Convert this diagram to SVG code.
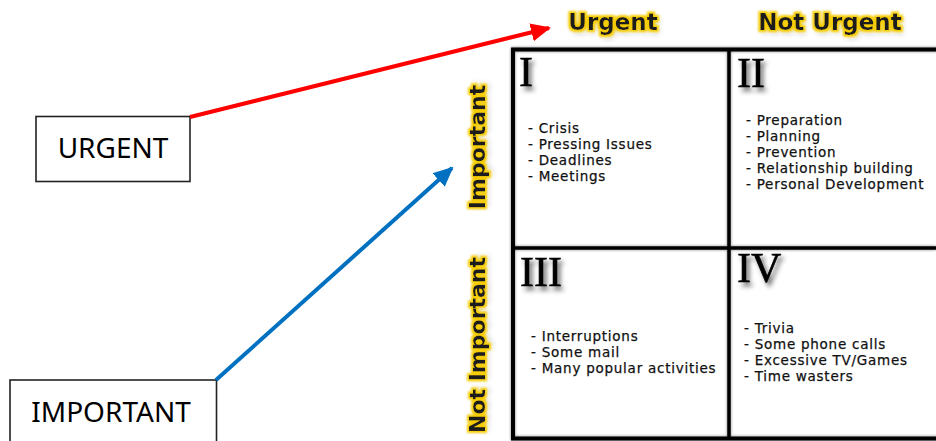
<svg xmlns="http://www.w3.org/2000/svg" width="936" height="441" viewBox="0 0 936 441">
<defs>
<style>
.box{fill:#fff;stroke:#222;stroke-width:1.6}
.boxt{font-family:"Noto Sans",sans-serif;font-size:28px;fill:#000;text-anchor:middle}
.hdr{font-family:"DejaVu Sans",Verdana,sans-serif;font-weight:bold;font-size:23px;fill:#1a1a1a;text-anchor:middle}
.vhdr{font-family:"DejaVu Sans",Verdana,sans-serif;font-weight:bold;font-size:22px;fill:#1a1a1a;text-anchor:middle}
.num{font-family:"Liberation Serif",serif;font-size:42px;fill:#000;stroke:#000;stroke-width:0.6}
.item{font-family:"DejaVu Sans",Verdana,sans-serif;font-size:13.5px;fill:#111;stroke:#111;stroke-width:0.25;letter-spacing:0.75px}
.grid{stroke:#000;fill:none}
</style>
<filter id="glow" x="-20%" y="-40%" width="140%" height="180%">
<feMorphology in="SourceAlpha" operator="dilate" radius="2" result="d"/>
<feFlood flood-color="#f5cc00"/>
<feComposite in2="d" operator="in" result="y"/>
<feGaussianBlur in="y" stdDeviation="1" result="yb"/>
<feGaussianBlur in="SourceAlpha" stdDeviation="3" result="sb"/>
<feOffset in="sb" dx="2" dy="3" result="so"/>
<feComponentTransfer in="so" result="sh"><feFuncA type="linear" slope="0.35"/></feComponentTransfer>
<feMerge><feMergeNode in="sh"/><feMergeNode in="yb"/><feMergeNode in="SourceGraphic"/></feMerge>
</filter>
<filter id="shadow" x="-30%" y="-30%" width="160%" height="160%">
<feGaussianBlur in="SourceAlpha" stdDeviation="2.5" result="b"/>
<feOffset in="b" dx="3" dy="4" result="o"/>
<feComponentTransfer in="o" result="s"><feFuncA type="linear" slope="0.6"/></feComponentTransfer>
<feMerge><feMergeNode in="s"/><feMergeNode in="SourceGraphic"/></feMerge>
</filter>
<filter id="lineshadow" x="-5%" y="-50%" width="110%" height="200%">
<feGaussianBlur in="SourceAlpha" stdDeviation="1.5"/>
<feComponentTransfer><feFuncA type="linear" slope="0.5"/></feComponentTransfer>
<feMerge><feMergeNode/><feMergeNode in="SourceGraphic"/></feMerge>
</filter>
<marker id="arrRed" markerWidth="5" markerHeight="5" refX="4.5" refY="2.5" orient="auto" markerUnits="strokeWidth"><path d="M0,0.2 L5,2.5 L0,4.8 z" fill="#ff0000"/></marker>
<marker id="arrBlue" markerWidth="5" markerHeight="5" refX="4.5" refY="2.5" orient="auto" markerUnits="strokeWidth"><path d="M0,0.2 L5,2.5 L0,4.8 z" fill="#0070c0"/></marker>
</defs>
<rect width="936" height="441" fill="#fff"/>

<g id="matrix">
<g filter="url(#lineshadow)">
<rect class="grid" x="513" y="49.5" width="430" height="389" stroke-width="4"/>
<line class="grid" x1="729" y1="50" x2="729" y2="438" stroke-width="3.5"/>
<line class="grid" x1="513" y1="248" x2="936" y2="248" stroke-width="3.5"/>
</g>
</g>

<g id="headers">
<text class="hdr" x="613" y="30" filter="url(#glow)">Urgent</text>
<text class="hdr" x="830" y="30" filter="url(#glow)">Not Urgent</text>
<text class="vhdr" transform="translate(485,147) rotate(-90)" filter="url(#glow)">Important</text>
<text class="vhdr" transform="translate(485,345) rotate(-90)" filter="url(#glow)">Not Important</text>
</g>

<g id="q1">
<text class="num" x="519" y="86" filter="url(#shadow)">I</text>
<text class="item" x="528" y="133">- Crisis</text>
<text class="item" x="528" y="149">- Pressing Issues</text>
<text class="item" x="528" y="165">- Deadlines</text>
<text class="item" x="528" y="181">- Meetings</text>
</g>

<g id="q2">
<text class="num" x="737" y="87" filter="url(#shadow)">II</text>
<text class="item" x="746" y="125">- Preparation</text>
<text class="item" x="746" y="141">- Planning</text>
<text class="item" x="746" y="157">- Prevention</text>
<text class="item" x="746" y="173">- Relationship building</text>
<text class="item" x="746" y="189">- Personal Development</text>
</g>

<g id="q3">
<text class="num" x="520" y="286" filter="url(#shadow)">III</text>
<text class="item" x="531" y="341">- Interruptions</text>
<text class="item" x="531" y="357">- Some mail</text>
<text class="item" x="531" y="373">- Many popular activities</text>
</g>

<g id="q4">
<text class="num" x="737" y="282" filter="url(#shadow)">IV</text>
<text class="item" x="744" y="333">- Trivia</text>
<text class="item" x="744" y="349">- Some phone calls</text>
<text class="item" x="744" y="365">- Excessive TV/Games</text>
<text class="item" x="744" y="381">- Time wasters</text>
</g>

<g id="urgent-box">
<rect class="box" x="36" y="116.5" width="154" height="65"/>
<text class="boxt" x="113" y="158">URGENT</text>
</g>

<g id="important-box">
<rect class="box" x="10" y="380" width="206.5" height="70"/>
<text class="boxt" x="111" y="422">IMPORTANT</text>
</g>

<g id="connectors">
<line x1="190" y1="117" x2="549" y2="28" stroke="#ff0000" stroke-width="4" marker-end="url(#arrRed)"/>
<line x1="216" y1="380" x2="452" y2="168" stroke="#0070c0" stroke-width="4" marker-end="url(#arrBlue)"/>
</g>
</svg>
